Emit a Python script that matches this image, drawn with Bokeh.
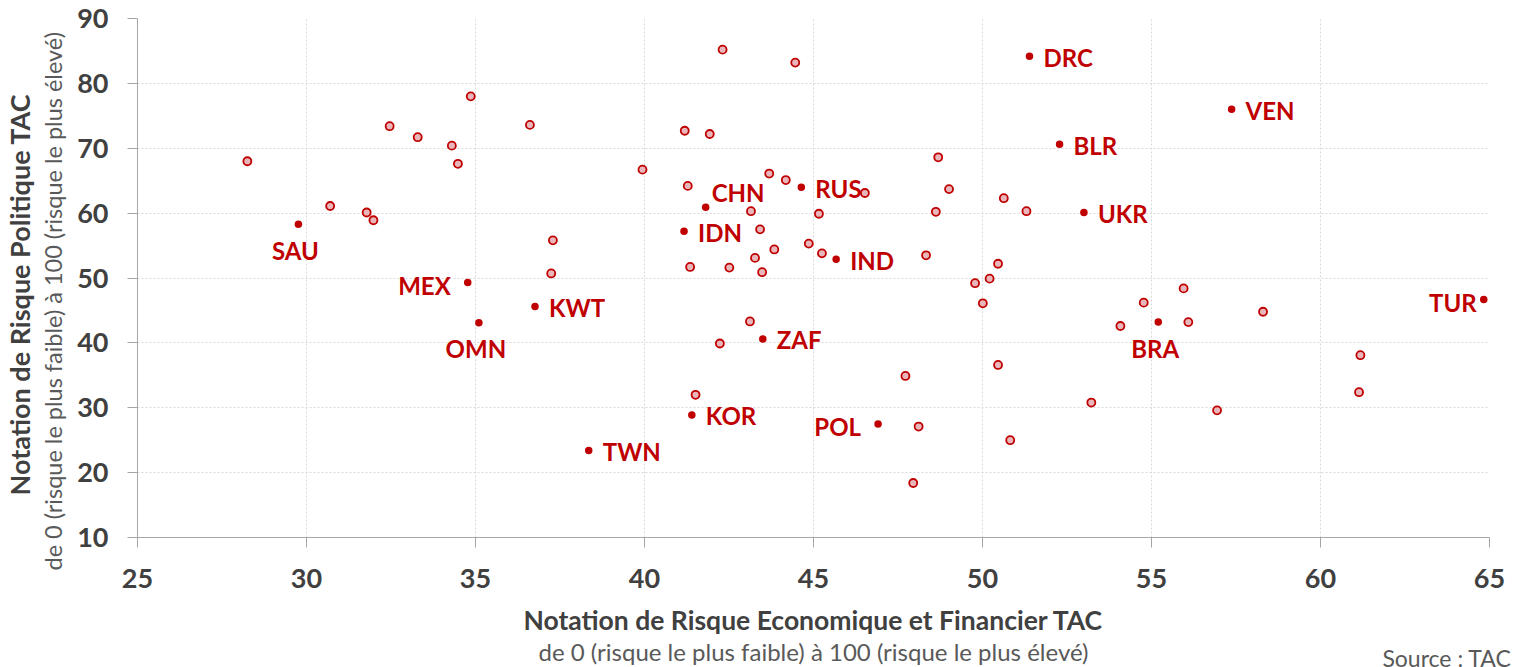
from bokeh.plotting import figure
from bokeh.models import Range1d, FixedTicker, ColumnDataSource, Title
from bokeh.embed import file_html
from bokeh.resources import INLINE
from bokeh.core.properties import value

# ---- data -------------------------------------------------------------
# labelled countries: economic & financial risk (x), political risk (y)
lab_names = ["DRC", "VEN", "BLR", "UKR", "RUS", "CHN", "IDN", "IND", "SAU",
             "MEX", "KWT", "OMN", "ZAF", "KOR", "TWN", "POL", "BRA", "TUR"]
lab_econ = [51.39, 57.37, 52.28, 53.00, 44.64, 41.81, 41.17, 45.67, 29.76,
            34.77, 36.76, 35.10, 43.50, 41.40, 38.35, 46.91, 55.20, 64.83]
lab_pol = [84.2, 76.0, 70.6, 60.1, 64.0, 60.9, 57.2, 52.9, 58.3,
           49.3, 45.6, 43.1, 40.6, 28.9, 23.4, 27.5, 43.2, 46.7]
lab_side = ["right", "right", "right", "right", "right", "above", "right", "right", "below",
            "left", "right", "below", "right", "right", "right", "left", "below", "left_near"]

# other countries (unlabelled)
other_econ = [28.25, 32.46, 33.29, 34.86, 34.30, 34.48, 36.61, 30.70, 31.78, 31.98,
              37.29, 37.24, 42.31, 44.46, 41.19, 41.93, 39.94, 41.28, 43.69, 44.18,
              46.52, 43.15, 45.16, 43.42, 48.69, 49.01, 48.62, 50.63, 51.30, 43.84,
              44.86, 45.25, 43.27, 41.35, 42.51, 43.48, 48.33, 50.46, 49.78, 50.21,
              50.01, 43.12, 42.23, 50.46, 47.72, 41.51, 53.22, 48.11, 50.82, 47.95,
              55.95, 54.77, 54.08, 56.09, 58.30, 61.18, 61.14, 56.94]
other_pol = [68.0, 73.4, 71.7, 78.0, 70.4, 67.6, 73.6, 61.1, 60.1, 58.9,
             55.8, 50.7, 85.2, 83.2, 72.7, 72.2, 66.7, 64.2, 66.1, 65.1,
             63.1, 60.3, 59.9, 57.5, 68.6, 63.7, 60.2, 62.3, 60.3, 54.4,
             55.3, 53.8, 53.1, 51.7, 51.6, 50.9, 53.5, 52.2, 49.2, 49.9,
             46.1, 43.3, 39.9, 36.6, 34.9, 32.0, 30.8, 27.1, 25.0, 18.4,
             48.4, 46.2, 42.6, 43.2, 44.8, 38.1, 32.4, 29.6]

x_ticks = [25, 30, 35, 40, 45, 50, 55, 60, 65]
y_ticks = [10, 20, 30, 40, 50, 60, 70, 80, 90]

x_title = "Notation de Risque Economique et Financier TAC"
x_sub = "de 0 (risque le plus faible) à 100 (risque le plus élevé)"
y_title = "Notation de Risque Politique TAC"
y_sub = "de 0 (risque le plus faible) à 100 (risque le plus élevé)"
source_txt = "Source : TAC"

# ---- styling ----------------------------------------------------------
RED = "#C00000"
PINK = "#E9B7BB"
GREY_TXT = "#404040"
GREY_SUB = "#595959"
FONT = "Lato"

# label placement styles: (x_offset, y_offset, align)
PLACE = {
    "right": (14, 1, "left"),
    "above": (6, -15, "left"),
    "below": (-3, 26, "center"),
    "left": (-17, 3, "right"),
    "left_near": (-7, 3, "right"),
}

p = figure(width=1514, height=667,
           x_range=Range1d(25, 65), y_range=Range1d(10, 90),
           output_backend="svg", toolbar_location=None,
           min_border_left=137, min_border_right=25,
           min_border_top=18, min_border_bottom=130,
           outline_line_color=None,
           background_fill_color="white", border_fill_color="white")

p.xaxis.ticker = FixedTicker(ticks=x_ticks)
p.yaxis.ticker = FixedTicker(ticks=y_ticks)
p.xgrid.ticker = FixedTicker(ticks=x_ticks)
p.ygrid.ticker = FixedTicker(ticks=y_ticks)

for ax in (p.xaxis, p.yaxis):
    ax.axis_line_color = "#A6A6A6"
    ax.axis_line_width = 1
    ax.major_tick_line_color = "#A6A6A6"
    ax.major_tick_out = 10
    ax.major_tick_in = 0
    ax.minor_tick_line_color = None
    ax.major_label_text_font = FONT
    ax.major_label_text_font_style = "bold"
    ax.major_label_text_font_size = "27px"
    ax.major_label_text_color = GREY_TXT
p.yaxis.major_label_standoff = 19
p.xaxis.major_label_standoff = 21

p.grid.grid_line_color = "#D9D9D9"
p.grid.grid_line_dash = "2 2"
p.grid.grid_line_width = 1

p.scatter(other_econ, other_pol, size=8, fill_color=PINK,
          line_color=RED, line_width=1.8)
p.scatter(lab_econ, lab_pol, size=7.5, fill_color=RED, line_color=None)

src = ColumnDataSource(dict(
    x=lab_econ, y=lab_pol, text=lab_names,
    xo=[PLACE[s][0] for s in lab_side],
    yo=[PLACE[s][1] for s in lab_side],
    align=[PLACE[s][2] for s in lab_side],
))
p.text(x="x", y="y", text="text", x_offset="xo", y_offset="yo",
       text_align="align", text_baseline="middle", source=src,
       text_font=value(FONT), text_font_style="bold",
       text_font_size="24px", text_color=RED)

# ---- axis titles (side panels, stacked outward from the frame) ----------
# below: bold title, subtitle, source
p.add_layout(Title(text=x_title, align="center", vertical_align="middle",
                   standoff=24, text_font=FONT, text_font_style="bold",
                   text_font_size="26.5px", text_color=GREY_TXT), "below")
p.add_layout(Title(text=x_sub, align="center", vertical_align="bottom",
                   standoff=-27, text_font=FONT, text_font_style="normal",
                   text_font_size="24px", text_color=GREY_SUB), "below")
p.add_layout(Title(text=source_txt, align="right", offset=-22,
                   vertical_align="top", standoff=-18,
                   text_font=FONT, text_font_style="normal",
                   text_font_size="23px", text_color=GREY_SUB), "below")

# left: subtitle (nearer the axis), then bold title (outermost);
# both start from a fixed distance relative to the frame bottom
p.add_layout(Title(text=y_sub, align="left", offset=-33, vertical_align="top",
                   standoff=11, text_font=FONT, text_font_style="normal",
                   text_font_size="23.5px", text_color=GREY_SUB), "left")
p.add_layout(Title(text=y_title, align="left", offset=42, vertical_align="bottom",
                   standoff=-5, text_font=FONT, text_font_style="bold",
                   text_font_size="27px", text_color=GREY_TXT), "left")

open("out.html", "w").write(file_html(p, INLINE))
